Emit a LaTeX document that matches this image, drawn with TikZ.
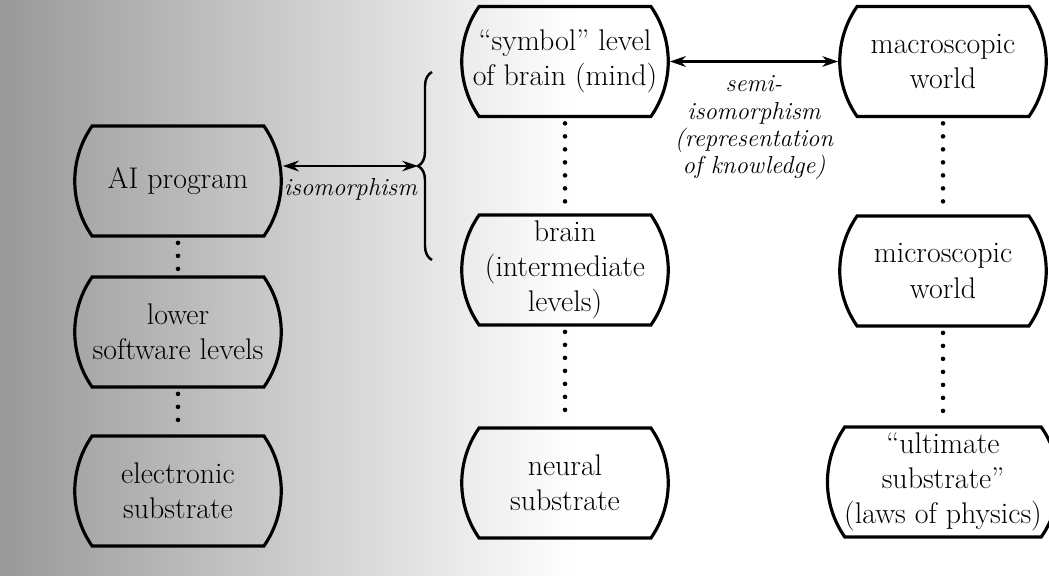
\documentclass[tikz,border=0pt]{standalone}
\usepackage{fontspec}
\usetikzlibrary{shapes.misc,arrows.meta,decorations.pathreplacing}

\begin{document}
\begin{tikzpicture}[
    level/.style={draw, line width=1.8pt, rounded rectangle, rounded rectangle arc length=70,
      minimum width=4.2cm, minimum height=2.2cm, inner sep=1pt, align=center,
      font=\fontsize{17}{20}\selectfont},
    dots/.style={line width=2.6pt, line cap=round, dash pattern=on 0pt off 7.4pt,
      shorten <=3pt, shorten >=3pt},
    link/.style={{Stealth[length=9pt,width=6pt]}-{Stealth[length=9pt,width=6pt]}, line width=1.6pt},
    tag/.style={font=\fontsize{14}{15.5}\selectfont\itshape, align=center}]
    \useasboundingbox (0,0) rectangle (20.98,-11.52);

    % scanned page, darker at the left
    \shade[left color=black!40, right color=white] (0,0) rectangle (11.5,-11.52);

    % computer side
    \node[level] (AI)    at (3.56,-3.62) {AI program};
    \node[level] (lower) at (3.56,-6.64) {lower\\software levels};
    \node[level] (elec)  at (3.56,-9.82) {electronic\\substrate};

    % brain side
    \node[level] (sym)    at (11.30,-1.23) {“symbol” level\\of brain (mind)};
    \node[level] (brain)  at (11.30,-5.40) {brain\\(intermediate\\levels)};
    \node[level] (neural) at (11.30,-9.66) {neural\\substrate};

    % world side
    \node[level] (macro) at (18.86,-1.23) {macroscopic\\world};
    \node[level] (micro) at (18.86,-5.42) {microscopic\\world};
    \node[level, inner xsep=-6pt] (ult) at (18.86,-9.64) {“ultimate\\substrate”\\(laws of physics)};

    % levels below each other
    \draw[dots] (AI) -- (lower);
    \draw[dots] (lower) -- (elec);
    \draw[dots] (sym) -- (brain);
    \draw[dots] (brain) -- (neural);
    \draw[dots] (macro) -- (micro);
    \draw[dots] (micro) -- (ult);

    % brace over the two brain levels
    \coordinate (bracebot) at (8.64,-5.20);
    \coordinate (bracetop) at (8.64,-1.44);
    \coordinate (bracetip) at (8.36,-3.32);
    \draw[decorate, decoration={brace, amplitude=0.28cm}, line width=1.4pt] (bracebot) -- (bracetop);

    % mappings
    \draw[link] (AI.east |- bracetip) -- (bracetip) node[midway, below=3pt, tag] {isomorphism};
    \draw[link] (sym) -- (macro) node[midway, below=4pt, tag] {semi-\\isomorphism\\(representation\\of knowledge)};
\end{tikzpicture}
\end{document}
